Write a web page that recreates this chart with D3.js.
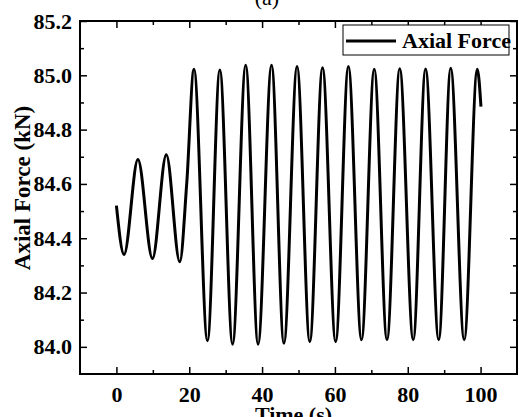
<!DOCTYPE html>
<html>
<head>
<meta charset="utf-8">
<script src="https://cdn.jsdelivr.net/npm/d3@7"></script>
<style>
  body { margin: 0; background: #fff; }
  svg text { font-family: "Liberation Serif", "Times New Roman", serif; font-weight: bold; fill: #000; }
</style>
</head>
<body>
<svg width="519" height="417"></svg>
<script>
// Axial force record (turning points)
const timeS = [0, 2.1, 5.9, 9.9, 13.7, 17.4, 19.3, 21.3, 25.0, 28.4, 31.9, 35.5, 38.9, 42.6, 46.0,
  49.6, 53.1, 56.6, 60.2, 63.7, 67.3, 70.8, 74.3, 77.8, 81.5, 84.9, 88.5, 91.8, 95.5, 99.1, 100.1];
const forceKN = [84.52, 84.34, 84.69, 84.325, 84.707, 84.313, 84.60, 85.022, 84.022, 85.02, 84.01, 85.037, 84.01, 85.037, 84.013,
  85.032, 84.019, 85.028, 84.019, 85.032, 84.026, 85.022, 84.026, 85.024, 84.026, 85.023, 84.026, 85.026, 84.026, 85.022, 84.885];

const xTicks = [0, 20, 40, 60, 80, 100];
const xMinor = [10, 30, 50, 70, 90];
const yTicks = [84.0, 84.2, 84.4, 84.6, 84.8, 85.0, 85.2];
const yMinor = [84.1, 84.3, 84.5, 84.7, 84.9, 85.1];

const seriesName = "Axial Force";
const xTitle = "Time (s)";
const yTitle = "Axial Force (kN)";
const panelTitle = "(a)";

const svg = d3.select("svg");
const plotL = 80, plotR = 517, plotT = 21, plotB = 374;

const x = d3.scaleLinear().domain([-10, 110]).range([plotL, plotR]);
const y = d3.scaleLinear().domain([83.9, 85.2]).range([plotB, plotT]);

// axes, ticks pointing inward
function styleAxis(g) {
  g.select(".domain").remove();
  g.selectAll(".tick line").attr("stroke", "#000").attr("stroke-width", 1.5);
  g.selectAll("text").attr("font-size", "22px").attr("font-family", null);
}

svg.append("g").attr("transform", `translate(0,${plotB})`)
  .call(d3.axisBottom(x).tickValues(xTicks).tickFormat(d3.format("d")).tickSize(-7).tickPadding(12))
  .call(styleAxis);
svg.append("g").attr("transform", `translate(0,${plotB})`)
  .call(d3.axisBottom(x).tickValues(xMinor).tickFormat("").tickSize(-4))
  .call(styleAxis);
svg.append("g").attr("transform", `translate(0,${plotT})`)
  .call(d3.axisTop(x).tickValues(xTicks).tickFormat("").tickSize(-7))
  .call(styleAxis);
svg.append("g").attr("transform", `translate(0,${plotT})`)
  .call(d3.axisTop(x).tickValues(xMinor).tickFormat("").tickSize(-4))
  .call(styleAxis);

svg.append("g").attr("transform", `translate(${plotL},0)`)
  .call(d3.axisLeft(y).tickValues(yTicks).tickFormat(d3.format(".1f")).tickSize(-7).tickPadding(8))
  .call(styleAxis);
svg.append("g").attr("transform", `translate(${plotL},0)`)
  .call(d3.axisLeft(y).tickValues(yMinor).tickFormat("").tickSize(-4))
  .call(styleAxis);
svg.append("g").attr("transform", `translate(${plotR},0)`)
  .call(d3.axisRight(y).tickValues(yTicks).tickFormat("").tickSize(-7))
  .call(styleAxis);
svg.append("g").attr("transform", `translate(${plotR},0)`)
  .call(d3.axisRight(y).tickValues(yMinor).tickFormat("").tickSize(-4))
  .call(styleAxis);

// frame
svg.append("rect")
  .attr("x", plotL).attr("y", plotT)
  .attr("width", plotR - plotL).attr("height", plotB - plotT)
  .attr("fill", "none").attr("stroke", "#000").attr("stroke-width", 2);

// the signal
const line = d3.line()
  .x((d, i) => x(timeS[i]))
  .y(d => y(d))
  .curve(d3.curveMonotoneX);

svg.append("path")
  .datum(forceKN)
  .attr("d", line)
  .attr("fill", "none")
  .attr("stroke", "#000")
  .attr("stroke-width", 3)
  .attr("stroke-linejoin", "round");

// legend
const lg = svg.append("g");
lg.append("rect")
  .attr("x", 343).attr("y", 25).attr("width", 166).attr("height", 30)
  .attr("fill", "#fff").attr("stroke", "#000").attr("stroke-width", 1);
lg.append("line")
  .attr("x1", 346).attr("x2", 396).attr("y1", 41).attr("y2", 41)
  .attr("stroke", "#000").attr("stroke-width", 3);
lg.append("text")
  .attr("x", 402).attr("y", 48)
  .attr("font-size", "22px")
  .text(seriesName);

// titles
svg.append("text")
  .attr("x", (plotL + plotR) / 2 - 5).attr("y", 422)
  .attr("text-anchor", "middle")
  .attr("font-size", "22px")
  .text(xTitle);

svg.append("text")
  .attr("transform", `translate(30,188) rotate(-90)`)
  .attr("text-anchor", "middle")
  .attr("font-size", "23px")
  .text(yTitle);

svg.append("text")
  .attr("x", 267).attr("y", 5)
  .attr("text-anchor", "middle")
  .attr("font-size", "22px")
  .style("font-weight", "normal")
  .text(panelTitle);
</script>
</body>
</html>
